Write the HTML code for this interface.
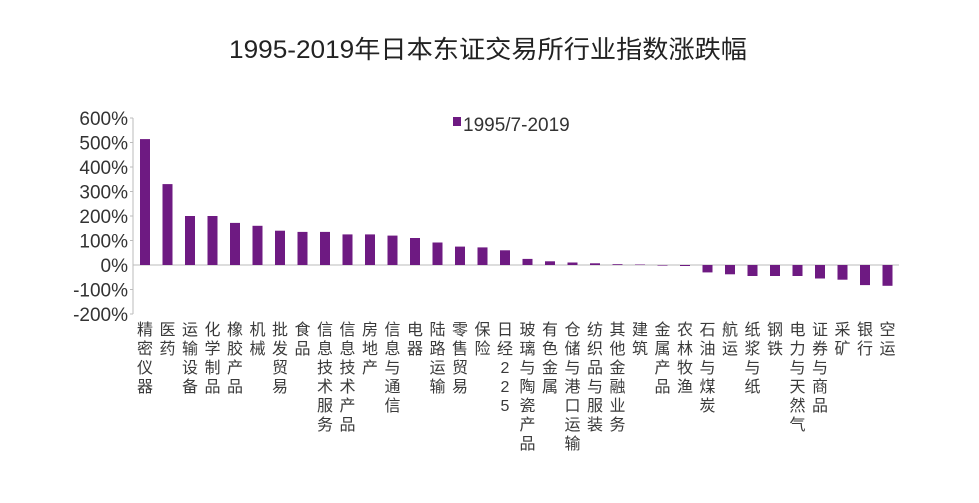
<!DOCTYPE html>
<html><head><meta charset="utf-8"><style>
body{margin:0;background:#fff;width:979px;height:503px;overflow:hidden;position:relative;font-family:"Liberation Sans","Noto Sans CJK SC",sans-serif}
.l{position:absolute;top:321px;width:16px;font-size:16px;line-height:19px;color:#3a3a3a;word-break:break-all;text-align:center}
</style></head><body>
<svg width="979" height="503" style="position:absolute;left:0;top:0" font-family="Liberation Sans, Noto Sans CJK SC, sans-serif">
<text x="488" y="58" font-size="25" text-anchor="middle" fill="#222" textLength="518" lengthAdjust="spacingAndGlyphs">1995-2019年日本东证交易所行业指数涨跌幅</text>
<rect x="453" y="117" width="8" height="9" fill="#6e1a82"/>
<text x="463" y="131" font-size="19" fill="#333">1995/7-2019</text>
<g font-size="19" fill="#333" text-anchor="end">
<text x="128" y="125">600%</text><text x="128" y="149.5">500%</text><text x="128" y="174">400%</text><text x="128" y="198.5">300%</text><text x="128" y="223">200%</text><text x="128" y="247.5">100%</text><text x="128" y="272">0%</text><text x="128" y="296.5">-100%</text><text x="128" y="321">-200%</text>
</g>
<line x1="133" y1="118" x2="133" y2="314" stroke="#bbb"/>
<line x1="133" y1="265" x2="899" y2="265" stroke="#bbb"/>
<g stroke="#bbb">
<line x1="130" y1="118" x2="133" y2="118"/><line x1="130" y1="142.5" x2="133" y2="142.5"/><line x1="130" y1="167" x2="133" y2="167"/><line x1="130" y1="191.5" x2="133" y2="191.5"/><line x1="130" y1="216" x2="133" y2="216"/><line x1="130" y1="240.5" x2="133" y2="240.5"/><line x1="130" y1="289.5" x2="133" y2="289.5"/><line x1="130" y1="314" x2="133" y2="314"/>
</g>
<g fill="#6e1a82">
<rect x="140" y="139.1" width="10" height="125.9"/>
<rect x="162.5" y="184.1" width="10" height="80.9"/>
<rect x="185" y="216" width="10" height="49"/>
<rect x="207.5" y="216" width="10" height="49"/>
<rect x="230" y="222.9" width="10" height="42.1"/>
<rect x="252.5" y="225.8" width="10" height="39.2"/>
<rect x="275" y="230.7" width="10" height="34.3"/>
<rect x="297.5" y="231.9" width="10" height="33.1"/>
<rect x="320" y="231.9" width="10" height="33.1"/>
<rect x="342.5" y="234.4" width="10" height="30.6"/>
<rect x="365" y="234.4" width="10" height="30.6"/>
<rect x="387.5" y="235.6" width="10" height="29.4"/>
<rect x="410" y="238" width="10" height="27"/>
<rect x="432.5" y="242.5" width="10" height="22.5"/>
<rect x="455" y="246.6" width="10" height="18.4"/>
<rect x="477.5" y="247.4" width="10" height="17.6"/>
<rect x="500" y="250.3" width="10" height="14.7"/>
<rect x="522.5" y="258.9" width="10" height="6.1"/>
<rect x="545" y="261.3" width="10" height="3.7"/>
<rect x="567.5" y="262.5" width="10" height="2.5"/>
<rect x="590" y="263.3" width="10" height="1.7"/>
<rect x="612.5" y="264.2" width="10" height="0.8"/>
<rect x="635" y="264.5" width="10" height="0.5"/>
<rect x="657.5" y="265" width="10" height="0.6"/>
<rect x="680" y="265" width="10" height="1"/>
<rect x="702.5" y="265" width="10" height="7.4"/>
<rect x="725" y="265" width="10" height="9.3"/>
<rect x="747.5" y="265" width="10" height="11"/>
<rect x="770" y="265" width="10" height="11"/>
<rect x="792.5" y="265" width="10" height="11"/>
<rect x="815" y="265" width="10" height="13.5"/>
<rect x="837.5" y="265" width="10" height="14.7"/>
<rect x="860" y="265" width="10" height="20.1"/>
<rect x="882.5" y="265" width="10" height="20.8"/>
</g>
</svg>
<div class="l" style="left:137px">精密仪器</div>
<div class="l" style="left:159.5px">医药</div>
<div class="l" style="left:182px">运输设备</div>
<div class="l" style="left:204.5px">化学制品</div>
<div class="l" style="left:227px">橡胶产品</div>
<div class="l" style="left:249.5px">机械</div>
<div class="l" style="left:272px">批发贸易</div>
<div class="l" style="left:294.5px">食品</div>
<div class="l" style="left:317px">信息技术服务</div>
<div class="l" style="left:339.5px">信息技术产品</div>
<div class="l" style="left:362px">房地产</div>
<div class="l" style="left:384.5px">信息与通信</div>
<div class="l" style="left:407px">电器</div>
<div class="l" style="left:429.5px">陆路运输</div>
<div class="l" style="left:452px">零售贸易</div>
<div class="l" style="left:474.5px">保险</div>
<div class="l" style="left:497px">日经225</div>
<div class="l" style="left:519.5px">玻璃与陶瓷产品</div>
<div class="l" style="left:542px">有色金属</div>
<div class="l" style="left:564.5px">仓储与港口运输</div>
<div class="l" style="left:587px">纺织品与服装</div>
<div class="l" style="left:609.5px">其他金融业务</div>
<div class="l" style="left:632px">建筑</div>
<div class="l" style="left:654.5px">金属产品</div>
<div class="l" style="left:677px">农林牧渔</div>
<div class="l" style="left:699.5px">石油与煤炭</div>
<div class="l" style="left:722px">航运</div>
<div class="l" style="left:744.5px">纸浆与纸</div>
<div class="l" style="left:767px">钢铁</div>
<div class="l" style="left:789.5px">电力与天然气</div>
<div class="l" style="left:812px">证券与商品</div>
<div class="l" style="left:834.5px">采矿</div>
<div class="l" style="left:857px">银行</div>
<div class="l" style="left:879.5px">空运</div>
</body></html>
